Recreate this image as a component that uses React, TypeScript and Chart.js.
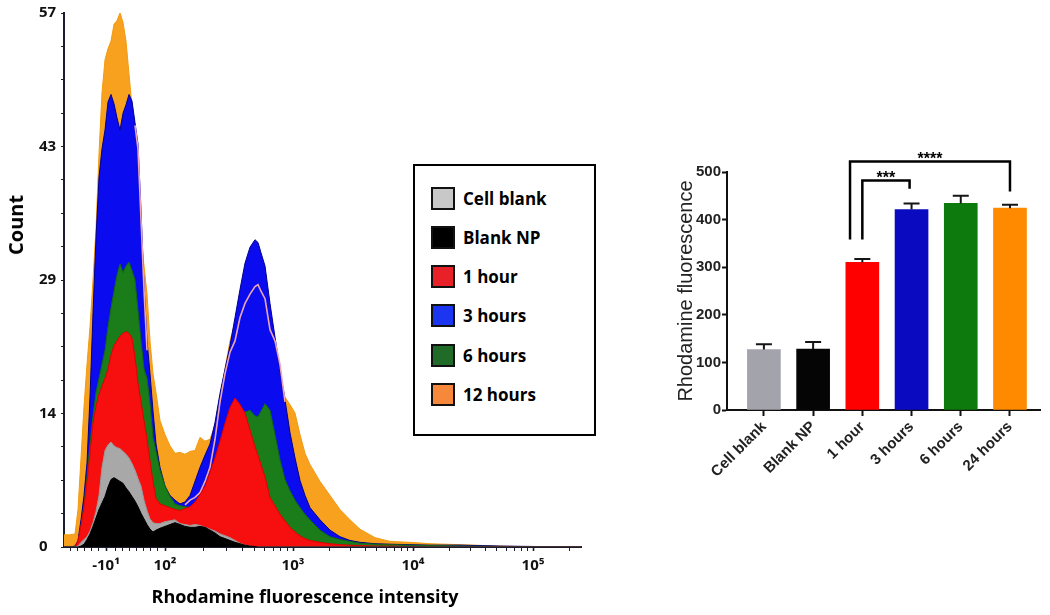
import React, { useEffect, useRef } from "react";
import { Chart, registerables } from "chart.js";

Chart.register(...registerables);

// ---------------- Left panel: flow cytometry histogram ----------------
// x = display channel along the biexponential fluorescence axis
const CHANNELS = [0, 6, 11, 14, 17, 20, 23, 26, 29, 32, 35, 38, 41, 44, 47, 50, 53, 56, 59, 62, 65, 68, 71, 74, 77, 80, 83, 86, 89, 92, 96, 101, 106, 111, 116, 121, 126, 131, 136, 141, 146, 151, 156, 161, 166, 171, 176, 181, 186, 191, 194, 197, 201, 206, 211, 216, 221, 226, 231, 236, 241, 246, 256, 266, 276, 286, 296, 311, 326, 346, 366, 396, 436, 476, 517];

const HOUR_12 = [1.3, 1.3, 1.4, 4, 9.5, 15, 19.5, 23.5, 28.5, 34, 42, 48.5, 52, 53.2, 54, 55.8, 56.2, 57, 56, 54, 50.5, 47, 36, 34, 33, 30, 27, 22, 18.5, 16.5, 13.5, 12, 10.8, 10, 10.1, 9.9, 10.2, 10.3, 11.7, 11.3, 11.5, 13, 16, 19, 22, 24, 26, 27, 28, 28.5, 28.5, 28, 27, 24, 21, 18.5, 16, 15.2, 14.3, 12, 10, 8.8, 7, 5.5, 4, 2.9, 1.9, 1, 0.6, 0.5, 0.35, 0.25, 0.1, 0, 0];
const HOUR_3 = [0, 0, 0.1, 0.7, 2.9, 5.5, 9, 16, 25, 33, 39.5, 42.5, 44.5, 47.5, 48.3, 47.3, 45.8, 44.5, 46.3, 47.2, 48.3, 47.6, 45.3, 43, 36, 28, 22, 18.5, 14.5, 11, 8.5, 6.5, 5.5, 5, 4.6, 4.8, 5.5, 7, 8.5, 9.8, 11, 13.3, 16.4, 19, 21.5, 24.5, 27.5, 30.3, 32, 32.8, 32.5, 31.4, 30, 26, 22.4, 18.9, 15.7, 12.2, 9.5, 7.1, 5.5, 4.2, 2.9, 1.8, 1.1, 0.7, 0.5, 0.35, 0.3, 0.25, 0.2, 0.2, 0.1, 0.05, 0];
const HOUR_6 = [0, 0, 0, 0.5, 2.2, 4.5, 7.5, 11, 14, 16.5, 18, 19.5, 21, 23.5, 25.5, 27.3, 29, 30.2, 29.3, 30, 30.4, 29.5, 28.5, 25.2, 22, 19, 18, 15.3, 11.7, 10.2, 8.2, 6.5, 5.4, 4.6, 4.4, 4.3, 4.2, 4.6, 5, 5.8, 6.5, 7.5, 8.5, 9.8, 11, 12.3, 13.5, 14.4, 14.6, 14, 13.9, 14.5, 15.3, 14.6, 12, 9.3, 7.2, 6, 5, 4.2, 3.5, 2.9, 1.8, 1.1, 0.8, 0.6, 0.4, 0.3, 0.25, 0.2, 0.15, 0.1, 0.05, 0, 0];
const HOUR_1 = [0, 0, 0, 0.7, 2.3, 4.3, 7, 10, 13.3, 15, 16.3, 17.2, 18, 19, 20.5, 21.5, 22, 22.5, 22.8, 23, 22.8, 22.3, 20.3, 17.5, 15.5, 13.5, 11.5, 9.2, 7, 5.2, 4.6, 4.4, 4.2, 4, 3.9, 4.1, 4.3, 4.8, 5.6, 6.5, 8, 9.5, 11.3, 13.2, 14.9, 15.9, 15.2, 14.3, 12.5, 10.7, 9.8, 8.8, 7.5, 5.3, 4.4, 3.5, 2.8, 2.1, 1.6, 1.2, 0.9, 0.7, 0.5, 0.35, 0.25, 0.2, 0.15, 0.1, 0.1, 0.05, 0, 0, 0, 0, 0];
const CELL_BLANK = [0, 0, 0, 0.1, 0.5, 0.8, 1.1, 1.7, 2.6, 3.8, 5.5, 8.5, 10.3, 10.9, 11.2, 10.8, 10.6, 10.5, 10.2, 9.9, 9.5, 8.9, 8.2, 7.3, 6.5, 5, 3.9, 3, 2.6, 2.5, 2.5, 2.7, 2.8, 2.9, 2.5, 2.4, 2.3, 2.4, 2.3, 2.1, 1.9, 1.7, 1.4, 1.2, 1, 0.7, 0.4, 0.2, 0.1, 0, 0, 0, 0, 0, 0, 0, 0, 0, 0, 0, 0, 0, 0, 0, 0, 0, 0, 0, 0, 0, 0, 0, 0, 0, 0];
const BLANK_NP = [0, 0, 0, 0, 0.1, 0.3, 0.8, 1.4, 2.2, 3.1, 4, 4.7, 5.4, 6.4, 7.2, 7.4, 7.2, 7, 6.8, 6.3, 5.9, 5.4, 4.9, 4.3, 3.6, 3, 2.4, 1.9, 1.6, 1.8, 2, 2.2, 2.4, 2.6, 2.4, 2.2, 2.1, 2.1, 2.2, 2.1, 1.8, 1.5, 1.1, 0.9, 0.7, 0.5, 0.35, 0.2, 0.1, 0.05, 0, 0, 0, 0, 0, 0, 0, 0, 0, 0, 0, 0, 0, 0, 0, 0, 0, 0, 0, 0, 0, 0, 0, 0, 0];
// pale outline trace visible over the 3-hour histogram
const OUTLINE_TRACE = [null, null, null, null, null, null, null, null, null, null, null, null, null, null, null, null, null, null, null, null, null, null, 45, 42.5, 35, 27.5, 21, null, null, null, null, null, null, null, null, 4.5, 5, 5.3, 5.8, 7, 8.5, 11.5, 15.5, 18.5, 20.8, 22, 24.5, 26, 27, 27.8, 28, 27.3, 26.5, 23.2, 22, 19.5, 15.5, null, null, null, null, null, null, null, null, null, null, null, null, null, null, null, null, null, null];

const LEGEND_LABELS = ["Cell blank", "Blank NP", "1 hour", "3 hours", "6 hours", "12 hours"];
const LEGEND_COLORS = ["#C8C8C8", "#000000", "#E82028", "#1B35F0", "#1F6B27", "#F5883A"];

const X_MAJOR_POS = [42, 101, 229, 349, 469];
const X_MAJOR_LABELS = ["-10\u00B9", "10\u00B2", "10\u00B3", "10\u2074", "10\u2075"];
const X_MINOR_POS = [6, 13, 20, 27, 34, 51, 58, 65, 72, 79, 86, 93, 139.5, 162.1, 178.1, 190.5, 200.6, 209.2, 216.6, 223.1, 265.1, 286.3, 301.2, 312.9, 322.4, 330.4, 337.4, 343.5, 385.1, 406.3, 421.2, 432.9, 442.4, 450.4, 457.4, 463.5, 505.1];
const Y_MAX = 57;

// ---------------- Right panel: bar chart ----------------
const BAR_CATEGORIES = ["Cell blank", "Blank NP", "1 hour", "3 hours", "6 hours", "24 hours"];
const BAR_VALUES = [127, 128, 310, 421, 434, 424];
const BAR_ERRORS = [11, 15, 7, 13, 16, 7];
const BAR_COLORS = ["#A3A3AB", "#050505", "#FF0000", "#0A0AC0", "#0C7A0C", "#FF8A00"];
const SIG_FROM = [2, 2];
const SIG_TO = [3, 5];
const SIG_LEFT_END = [358, 358];
const SIG_RIGHT_END = [465, 459];
const SIG_TOP = [482, 522];
const SIG_LABELS = ["***", "****"];

const AXIS = "#1c1c30";

export default function App() {
  const histRef = useRef<HTMLCanvasElement>(null);
  const barRef = useRef<HTMLCanvasElement>(null);

  useEffect(() => {
    const series = [
      { label: "Blank NP", data: BLANK_NP, fill: "#000000", line: "#000000" },
      { label: "Cell blank", data: CELL_BLANK, fill: "#A8A8A8", line: "#9A9A9A" },
      { label: "1 hour", data: HOUR_1, fill: "#F70F0F", line: "#E00000" },
      { label: "6 hours", data: HOUR_6, fill: "#1A7D1A", line: "#136813" },
      { label: "outline", data: OUTLINE_TRACE, fill: null, line: "#EBA7B4" },
      { label: "3 hours", data: HOUR_3, fill: "#0B0BF0", line: "#00008A" },
      { label: "12 hours", data: HOUR_12, fill: "#F7A11E", line: "#F29A12" },
    ];
    const xTicks = [...X_MAJOR_POS, ...X_MINOR_POS].sort((a, b) => a - b);
    const tickFont = { family: "'Open Sans', sans-serif", weight: "bold" as const, size: 15 };

    const hist = new Chart(histRef.current!, {
      type: "line",
      data: {
        datasets: series.map((s, i) => ({
          label: s.label,
          data: CHANNELS.map((c, j) => ({ x: c, y: s.data[j] })),
          backgroundColor: s.fill ?? "transparent",
          borderColor: s.line,
          borderWidth: s.fill ? 1 : 1.6,
          fill: s.fill ? "origin" : false,
          pointRadius: 0,
          tension: 0,
          order: i,
        })),
      },
      options: {
        responsive: false,
        animation: false,
        events: [],
        layout: { padding: { left: 39, top: 13, right: 19, bottom: 0 } },
        plugins: { legend: { display: false }, tooltip: { enabled: false } },
        scales: {
          x: {
            type: "linear",
            min: 0,
            max: 517,
            afterBuildTicks: (s: any) => {
              s.ticks = xTicks.map((v) => ({ value: v }));
            },
            afterFit: (s: any) => {
              s.height = 68;
            },
            ticks: {
              autoSkip: false,
              maxRotation: 0,
              padding: 6,
              color: "#111",
              font: tickFont,
              callback: (v: any) => {
                const i = X_MAJOR_POS.indexOf(v);
                return i >= 0 ? X_MAJOR_LABELS[i] : "";
              },
            },
            grid: {
              drawOnChartArea: false,
              tickLength: 4,
              color: AXIS,
              tickWidth: (ctx: any) => (ctx.tick && X_MAJOR_POS.includes(ctx.tick.value) ? 1.6 : 1),
            },
            border: { color: AXIS, width: 2 },
          },
          y: {
            min: 0,
            max: Y_MAX,
            afterBuildTicks: (s: any) => {
              s.ticks = Array.from({ length: 17 }, (_, k) => ({ value: (k * Y_MAX) / 16 }));
            },
            afterFit: (s: any) => {
              s.width = 25;
            },
            ticks: {
              autoSkip: false,
              crossAlign: "far",
              padding: 2,
              color: "#111",
              font: tickFont,
              callback: (v: any, i: number) => (i % 4 === 0 ? String(Math.round(v)) : ""),
            },
            grid: { drawOnChartArea: false, tickLength: 3, color: AXIS },
            border: { color: AXIS, width: 2 },
          },
        },
      },
    });

    const barExtras = {
      id: "barExtras",
      afterDatasetsDraw(chart: any) {
        const { ctx, scales } = chart;
        const x = scales.x;
        const y = scales.y;
        ctx.save();
        ctx.strokeStyle = "#151515";
        ctx.lineWidth = 2;
        BAR_VALUES.forEach((v, i) => {
          const px = x.getPixelForValue(i);
          const top = y.getPixelForValue(v);
          const end = y.getPixelForValue(v + BAR_ERRORS[i]);
          ctx.beginPath();
          ctx.moveTo(px, top);
          ctx.lineTo(px, end);
          ctx.moveTo(px - 8, end);
          ctx.lineTo(px + 8, end);
          ctx.stroke();
        });
        ctx.lineWidth = 2.5;
        ctx.strokeStyle = "#000";
        ctx.fillStyle = "#000";
        ctx.font = "bold 16px 'Liberation Sans', Arial, sans-serif";
        ctx.textAlign = "center";
        ctx.textBaseline = "alphabetic";
        SIG_LABELS.forEach((label, k) => {
          const span = SIG_TO[k] - SIG_FROM[k];
          const lx = x.getPixelForValue(SIG_FROM[k] - (span > 1 ? 0.25 : 0));
          const rx = x.getPixelForValue(SIG_TO[k] - (span > 1 ? 0 : 0.04));
          const ty = y.getPixelForValue(SIG_TOP[k]);
          ctx.beginPath();
          ctx.moveTo(lx, y.getPixelForValue(SIG_LEFT_END[k]));
          ctx.lineTo(lx, ty);
          ctx.lineTo(rx, ty);
          ctx.lineTo(rx, y.getPixelForValue(SIG_RIGHT_END[k]));
          ctx.stroke();
          ctx.fillText(label, (lx + rx) / 2, ty + 2);
        });
        ctx.restore();
      },
    };

    const barFont = { family: "'Liberation Sans', Arial, sans-serif", weight: "bold" as const, size: 15 };
    const bar = new Chart(barRef.current!, {
      type: "bar",
      data: {
        datasets: [
          {
            data: BAR_VALUES.map((v, i) => ({ x: i, y: v })),
            backgroundColor: BAR_COLORS,
            borderWidth: 0,
            barThickness: 33,
          },
        ],
      },
      options: {
        responsive: false,
        animation: false,
        events: [],
        layout: { padding: { left: 30, top: 32, right: 10, bottom: 0 } },
        plugins: { legend: { display: false }, tooltip: { enabled: false } },
        scales: {
          x: {
            type: "linear",
            min: -0.75,
            max: 5.61,
            offset: false,
            afterBuildTicks: (s: any) => {
              s.ticks = BAR_CATEGORIES.map((_, i) => ({ value: i }));
            },
            afterFit: (s: any) => {
              s.height = 110;
            },
            ticks: {
              autoSkip: false,
              minRotation: 45,
              maxRotation: 45,
              padding: 2,
              color: "#222",
              font: barFont,
              callback: (v: any) => BAR_CATEGORIES[v] ?? "",
            },
            grid: { offset: false, drawOnChartArea: false, tickLength: 6, tickWidth: 2, color: "#111" },
            border: { color: "#111", width: 2 },
          },
          y: {
            min: 0,
            max: 500,
            afterFit: (s: any) => {
              s.width = 57;
            },
            ticks: { stepSize: 100, padding: 1, color: "#222", font: barFont },
            grid: { drawOnChartArea: false, tickLength: 5, tickWidth: 2, color: "#111" },
            border: { color: "#111", width: 2 },
            title: {
              display: true,
              text: "Rhodamine fluorescence",
              color: "#222",
              font: { family: "'Liberation Sans', Arial, sans-serif", size: 20 },
              padding: { top: 4, bottom: 0 },
            },
          },
        },
      },
      plugins: [barExtras],
    });

    return () => {
      hist.destroy();
      bar.destroy();
    };
  }, []);

  return (
    <div
      style={{
        position: "absolute",
        left: 0,
        top: 0,
        width: 1050,
        height: 615,
        background: "#fff",
        overflow: "hidden",
        fontFamily: "'Open Sans', sans-serif",
      }}
    >
      <canvas ref={histRef} width={600} height={615} style={{ position: "absolute", left: 0, top: 0 }} />
      <div
        style={{
          position: "absolute",
          left: 16,
          top: 225,
          transform: "translate(-50%, -50%) rotate(-90deg)",
          font: "700 20px 'Open Sans', sans-serif",
          lineHeight: "24px",
          whiteSpace: "nowrap",
          color: "#000",
        }}
      >
        Count
      </div>
      <div
        style={{
          position: "absolute",
          left: 0,
          width: 610,
          top: 584,
          textAlign: "center",
          font: "700 18px 'Open Sans', sans-serif",
          lineHeight: "24px",
          whiteSpace: "nowrap",
          color: "#000",
        }}
      >
        Rhodamine fluorescence intensity
      </div>
      <div
        style={{
          position: "absolute",
          left: 413,
          top: 164,
          width: 183,
          height: 272,
          border: "2px solid #000",
          boxSizing: "border-box",
          background: "#fff",
          paddingTop: 20,
          paddingLeft: 16,
        }}
      >
        {LEGEND_LABELS.map((l, i) => (
          <div key={l} style={{ display: "flex", alignItems: "center", height: 24, marginBottom: 15.3 }}>
            <span
              style={{
                display: "inline-block",
                width: 24,
                height: 23,
                border: "2px solid #111",
                boxSizing: "border-box",
                background: LEGEND_COLORS[i],
                marginRight: 8,
              }}
            />
            <span style={{ font: "700 17px 'Open Sans', sans-serif", color: "#000", whiteSpace: "nowrap" }}>{l}</span>
          </div>
        ))}
      </div>
      <canvas ref={barRef} width={410} height={380} style={{ position: "absolute", left: 640, top: 140 }} />
    </div>
  );
}
